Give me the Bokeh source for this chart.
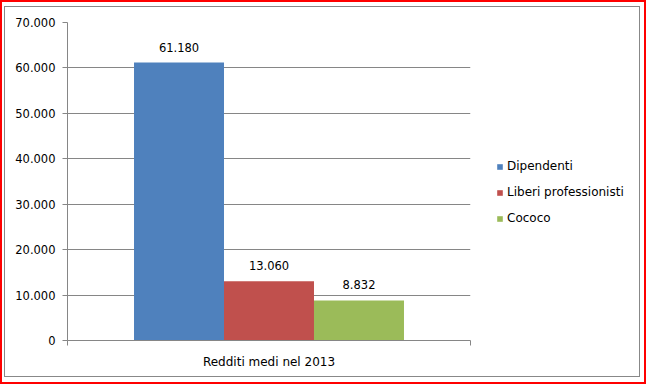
from bokeh.plotting import figure
from bokeh.models import (Range1d, FixedTicker, LinearAxis, Legend, LegendItem,
                          ColumnDataSource, InlineStyleSheet)
from bokeh.core.properties import value
from bokeh.embed import file_html
from bokeh.resources import INLINE

# ---- data ----
groups = ["Redditi medi nel 2013"]
series = ["Dipendenti", "Liberi professionisti", "Cococo"]
values = [61180, 13060, 8832]
colors = ["#4F81BD", "#C0504D", "#9BBB59"]
y_ticks = [0, 10000, 20000, 30000, 40000, 50000, 60000, 70000]
y_tick_labels = ["0", "10.000", "20.000", "30.000", "40.000", "50.000", "60.000", "70.000"]

FONT = "DejaVu Sans"
GRID = "#868686"
TXT = "#000000"

p = figure(output_backend="svg", toolbar_location=None,
           x_range=Range1d(0, len(groups)), y_range=Range1d(0, 70000),
           x_axis_location=None, y_axis_location=None,
           min_border_left=67, min_border_right=176, min_border_top=22, min_border_bottom=44,
           frame_width=403, frame_height=318)
p.outline_line_color = None
p.background_fill_color = "white"
p.border_fill_color = "white"

css = InlineStyleSheet(css="""
:host { position: relative; }
:host::before { content: ""; position: absolute; left: 0px; top: 0px; width: 642px; height: 380px;
  border: 2px solid #FF0000; pointer-events: none; z-index: 10; }
:host::after { content: ""; position: absolute; left: 4px; top: 6px; width: 634px; height: 369px;
  border: 1px solid #888888; pointer-events: none; z-index: 10; }
""")
p.stylesheets = [css]

# y axis
yax = LinearAxis(ticker=FixedTicker(ticks=y_ticks, minor_ticks=[]))
yax.major_label_overrides = {t: l for t, l in zip(y_ticks, y_tick_labels)}
yax.axis_line_color = GRID
yax.major_tick_line_color = GRID
yax.major_tick_out = 5
yax.major_tick_in = 0
yax.minor_tick_line_color = None
yax.major_label_standoff = 7
yax.major_label_text_font = FONT
yax.major_label_text_font_size = "11.5px"
yax.major_label_text_color = TXT
p.add_layout(yax, "left")

# x axis
centers = [i + 0.5 for i in range(len(groups))]
bounds = [float(i) for i in range(len(groups) + 1)]
xax = LinearAxis(ticker=FixedTicker(ticks=centers, minor_ticks=bounds))
xax.major_label_overrides = {c: g for c, g in zip(centers, groups)}
xax.axis_line_color = GRID
xax.major_tick_line_color = None
xax.major_tick_out = 0
xax.major_tick_in = 0
xax.minor_tick_line_color = GRID
xax.minor_tick_out = 5
xax.minor_tick_in = 0
xax.major_label_standoff = 9
xax.major_label_text_font = FONT
xax.major_label_text_font_size = "12px"
xax.major_label_text_color = TXT
p.add_layout(xax, "below")

p.xgrid.visible = False
p.ygrid.ticker = FixedTicker(ticks=y_ticks[1:])
p.ygrid.grid_line_color = GRID
p.ygrid.grid_line_width = 1

# bars
bar_w = 0.2233
items = []
for i, (s, v, c) in enumerate(zip(series, values, colors)):
    x = centers[0] + (i - (len(series) - 1) / 2) * bar_w
    src = ColumnDataSource(dict(x=[x], top=[v], lab=[f"{v:,}".replace(",", ".")]))
    r = p.vbar(x="x", top="top", width=bar_w, bottom=0, source=src,
               fill_color=c, line_color=None)
    p.text(x="x", y="top", text="lab", source=src, text_align="center",
           text_baseline="bottom", y_offset=-11, text_font=value(FONT),
           text_font_size="11.5px", text_color=TXT)
    items.append(LegendItem(label=s, renderers=[r]))

legend = Legend(items=items, location=(26, 112))
legend.border_line_color = None
legend.background_fill_alpha = 0
legend.padding = 0
legend.margin = 0
legend.glyph_width = 7
legend.glyph_height = 7
legend.label_standoff = 4
legend.label_height = 20
legend.spacing = 6
legend.label_text_font = FONT
legend.label_text_font_size = "12px"
legend.label_text_color = TXT
p.add_layout(legend, "right")

open("out.html", "w").write(file_html(p, INLINE))
